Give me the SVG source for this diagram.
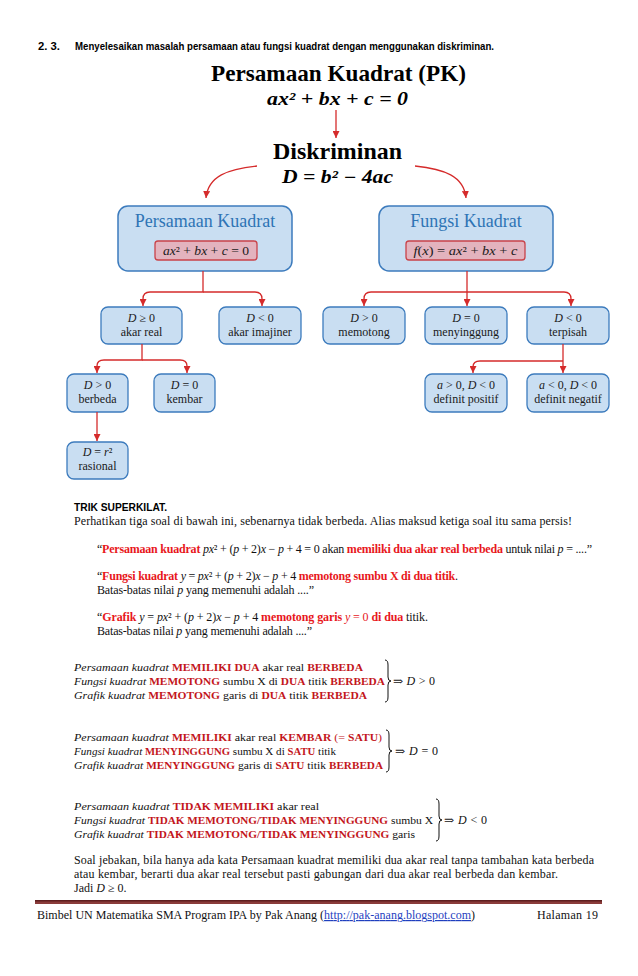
<svg xmlns="http://www.w3.org/2000/svg" width="638" height="976" viewBox="0 0 638 976">
<defs>
<style>
.serif{font-family:"Liberation Serif","DejaVu Serif",serif}
.nb{fill:#c9def2;stroke:#3c7bbd;stroke-width:1.3}
.bb{fill:#c9def2;stroke:#3c7bbd;stroke-width:1.5}
.ib{fill:#e3b3be;stroke:#c9434a;stroke-width:1.3}
.nt{font-family:"Liberation Serif","DejaVu Serif",serif;font-size:12px;fill:#1a1a1a;text-anchor:middle}
.ft{font-family:"Liberation Serif","DejaVu Serif",serif;font-size:12.5px;fill:#1a1a1a;text-anchor:middle}
.bt{font-family:"Liberation Serif","DejaVu Serif",serif;font-size:18px;fill:#2e74b5;text-anchor:middle}
.it{font-style:italic}
.cn{fill:none;stroke:#d52b2b;stroke-width:1.3}
.body{font-family:"Liberation Serif","DejaVu Serif",serif;font-size:12px;fill:#111}
.sec{font-family:"Liberation Serif","DejaVu Serif",serif;font-size:11px;fill:#111}
.qr{fill:#e8171c;font-weight:bold}
.qm{fill:#e8171c}
.sr{fill:#c3161c;font-weight:bold;font-size:10.6px}
.sm{fill:#c3161c}
.hd{font-family:"Liberation Sans",Arial,sans-serif;font-weight:bold;font-size:11.5px;fill:#000}
.big{font-family:"Liberation Serif","DejaVu Serif",serif;font-weight:bold;font-size:24px;fill:#000;text-anchor:middle}
.bm{font-family:"Liberation Serif","DejaVu Serif",serif;font-weight:bold;font-style:italic;font-size:18px;fill:#000;text-anchor:middle}
.br{fill:none;stroke:#111;stroke-width:1}
</style>
<marker id="ah" viewBox="0 0 8 8" refX="8" refY="4" markerWidth="7" markerHeight="7" markerUnits="userSpaceOnUse" orient="auto">
<path d="M0,0 L8,4 L0,8 z" fill="#d52b2b"/>
</marker>
</defs>
<rect width="638" height="976" fill="#fff"/>

<!-- header -->
<text class="hd" x="38" y="50" textLength="22" lengthAdjust="spacingAndGlyphs">2. 3.</text>
<text class="hd" x="75" y="50" textLength="419" lengthAdjust="spacingAndGlyphs">Menyelesaikan masalah persamaan atau fungsi kuadrat dengan menggunakan diskriminan.</text>

<g id="node-pk-title">
<text class="big" x="338.5" y="81" textLength="255" lengthAdjust="spacingAndGlyphs">Persamaan Kuadrat (PK)</text>
<text class="bm" x="337.5" y="105" textLength="141" lengthAdjust="spacingAndGlyphs">ax² + bx + c = 0</text>
</g>
<g id="node-diskriminan">
<text class="big" x="337.5" y="159" textLength="129" lengthAdjust="spacingAndGlyphs">Diskriminan</text>
<text class="bm" x="337.5" y="183" textLength="111" lengthAdjust="spacingAndGlyphs">D = b² − 4ac</text>
</g>

<g id="node-persamaan-kuadrat">
<rect class="bb" x="118" y="206" width="174" height="65" rx="10"/>
<text class="bt" x="205" y="227">Persamaan Kuadrat</text>
<rect class="ib" x="155" y="241" width="102" height="19" rx="3"/>
<text class="ft" x="206" y="255" textLength="86" lengthAdjust="spacingAndGlyphs"><tspan class="it">ax</tspan>² + <tspan class="it">bx</tspan> + <tspan class="it">c</tspan> = 0</text>
</g>
<g id="node-fungsi-kuadrat">
<rect class="bb" x="379" y="206" width="174" height="65" rx="10"/>
<text class="bt" x="466" y="227">Fungsi Kuadrat</text>
<rect class="ib" x="406" y="241" width="119" height="19" rx="3"/>
<text class="ft" x="465.5" y="255" textLength="104" lengthAdjust="spacingAndGlyphs"><tspan class="it">f</tspan>(<tspan class="it">x</tspan>) = <tspan class="it">ax</tspan>² + <tspan class="it">bx</tspan> + <tspan class="it">c</tspan></text>
</g>

<g id="node-d-ge-0">
<rect class="nb" x="101" y="307" width="81" height="37" rx="7"/>
<text class="nt" x="141.5" y="322"><tspan class="it">D</tspan> ≥ 0</text>
<text class="nt" x="141.5" y="336">akar real</text>
</g>
<g id="node-d-lt-0-imajiner">
<rect class="nb" x="219" y="307" width="82" height="37" rx="7"/>
<text class="nt" x="260" y="322"><tspan class="it">D</tspan> &lt; 0</text>
<text class="nt" x="260" y="336">akar imajiner</text>
</g>
<g id="node-memotong">
<rect class="nb" x="323" y="307" width="82" height="37" rx="7"/>
<text class="nt" x="364" y="322"><tspan class="it">D</tspan> &gt; 0</text>
<text class="nt" x="364" y="336">memotong</text>
</g>
<g id="node-menyinggung">
<rect class="nb" x="425" y="307" width="82" height="37" rx="7"/>
<text class="nt" x="466" y="322"><tspan class="it">D</tspan> = 0</text>
<text class="nt" x="466" y="336">menyinggung</text>
</g>
<g id="node-terpisah">
<rect class="nb" x="527" y="307" width="82" height="37" rx="7"/>
<text class="nt" x="568" y="322"><tspan class="it">D</tspan> &lt; 0</text>
<text class="nt" x="568" y="336">terpisah</text>
</g>
<g id="node-berbeda">
<rect class="nb" x="67" y="374" width="61" height="38" rx="7"/>
<text class="nt" x="97.5" y="389"><tspan class="it">D</tspan> &gt; 0</text>
<text class="nt" x="97.5" y="403">berbeda</text>
</g>
<g id="node-kembar">
<rect class="nb" x="154" y="374" width="61" height="38" rx="7"/>
<text class="nt" x="184.5" y="389"><tspan class="it">D</tspan> = 0</text>
<text class="nt" x="184.5" y="403">kembar</text>
</g>
<g id="node-definit-positif">
<rect class="nb" x="425" y="374" width="82" height="38" rx="7"/>
<text class="nt" x="466" y="389"><tspan class="it">a</tspan> &gt; 0,  <tspan class="it">D</tspan> &lt; 0</text>
<text class="nt" x="466" y="403">definit positif</text>
</g>
<g id="node-definit-negatif">
<rect class="nb" x="527" y="374" width="82" height="38" rx="7"/>
<text class="nt" x="568" y="389"><tspan class="it">a</tspan> &lt; 0,  <tspan class="it">D</tspan> &lt; 0</text>
<text class="nt" x="568" y="403">definit negatif</text>
</g>
<g id="node-rasional">
<rect class="nb" x="67" y="442" width="61" height="37" rx="7"/>
<text class="nt" x="97.5" y="456"><tspan class="it">D</tspan> = <tspan class="it">r</tspan>²</text>
<text class="nt" x="97.5" y="470">rasional</text>
</g>

<g id="connectors">
<path class="cn" d="M336,110 V138" marker-end="url(#ah)"/>
<path class="cn" d="M257,166 C228,169 208,176 206,198" marker-end="url(#ah)"/>
<path class="cn" d="M415,166 C444,169 464,176 466,198" marker-end="url(#ah)"/>
<path class="cn" d="M203,271 V292 H150 Q143,292 143,299 V306" marker-end="url(#ah)"/>
<path class="cn" d="M203,292 H255 Q262,292 262,299 V306" marker-end="url(#ah)"/>
<path class="cn" d="M467,271 V306" marker-end="url(#ah)"/>
<path class="cn" d="M467,292 H371 Q364,292 364,299 V306" marker-end="url(#ah)"/>
<path class="cn" d="M467,292 H564 Q571,292 571,299 V306" marker-end="url(#ah)"/>
<path class="cn" d="M142,344 V360 H104 Q97,360 97,366 V373" marker-end="url(#ah)"/>
<path class="cn" d="M142,360 H180 Q187,360 187,366 V373" marker-end="url(#ah)"/>
<path class="cn" d="M97,412 V441" marker-end="url(#ah)"/>
<path class="cn" d="M563,344 V373" marker-end="url(#ah)"/>
<path class="cn" d="M563,361 H480 Q473,361 473,367 V373" marker-end="url(#ah)"/>
</g>

<!-- trik superkilat -->
<text class="hd" x="74" y="511" font-size="12" textLength="93" lengthAdjust="spacingAndGlyphs">TRIK SUPERKILAT.</text>
<text class="body" x="74" y="525" textLength="498">Perhatikan tiga soal di bawah ini, sebenarnya tidak berbeda. Alias maksud ketiga soal itu sama persis!</text>

<text class="body" x="97" y="553" textLength="495">“<tspan class="qr">Persamaan kuadrat</tspan> <tspan class="it">px</tspan>² + (<tspan class="it">p</tspan> + 2)<tspan class="it">x</tspan> − <tspan class="it">p</tspan> + 4 = 0 akan <tspan class="qr">memiliki dua akar real berbeda</tspan> untuk nilai <tspan class="it">p</tspan> = ....”</text>

<text class="body" x="97" y="580" textLength="361">“<tspan class="qr">Fungsi kuadrat</tspan> <tspan class="it">y</tspan> = <tspan class="it">px</tspan>² + (<tspan class="it">p</tspan> + 2)<tspan class="it">x</tspan> − <tspan class="it">p</tspan> + 4 <tspan class="qr">memotong sumbu X di dua titik</tspan>.</text>
<text class="body" x="97" y="594" textLength="217">Batas-batas nilai <tspan class="it">p</tspan> yang memenuhi adalah ....”</text>

<text class="body" x="97" y="621" textLength="331">“<tspan class="qr">Grafik</tspan> <tspan class="it">y</tspan> = <tspan class="it">px</tspan>² + (<tspan class="it">p</tspan> + 2)<tspan class="it">x</tspan> − <tspan class="it">p</tspan> + 4 <tspan class="qr">memotong garis </tspan><tspan class="qm it">y</tspan><tspan class="qm"> = 0 </tspan><tspan class="qr">di dua</tspan> titik.</text>
<text class="body" x="97" y="635" textLength="215">Batas-batas nilai <tspan class="it">p</tspan> yang memenuhi adalah ....”</text>

<!-- section D > 0 -->
<text class="sec" x="74" y="671" textLength="289" lengthAdjust="spacingAndGlyphs"><tspan class="it">Persamaan kuadrat</tspan> <tspan class="sr">MEMILIKI DUA</tspan> akar real <tspan class="sr">BERBEDA</tspan></text>
<text class="sec" x="74" y="685" textLength="311" lengthAdjust="spacingAndGlyphs"><tspan class="it">Fungsi kuadrat</tspan> <tspan class="sr">MEMOTONG</tspan> sumbu X di <tspan class="sr">DUA</tspan> titik <tspan class="sr">BERBEDA</tspan></text>
<text class="sec" x="74" y="699" textLength="293" lengthAdjust="spacingAndGlyphs"><tspan class="it">Grafik kuadrat</tspan> <tspan class="sr">MEMOTONG</tspan> garis di <tspan class="sr">DUA</tspan> titik <tspan class="sr">BERBEDA</tspan></text>
<path class="br" d="M385,660 Q388,660 388,665 V677 Q388,681 391,681 Q388,681 388,685 V697 Q388,702 385,702"/>
<text class="body" x="393" y="685" textLength="42">⇒ <tspan class="it">D</tspan> &gt; 0</text>

<!-- section D = 0 -->
<text class="sec" x="74" y="741" textLength="308" lengthAdjust="spacingAndGlyphs"><tspan class="it">Persamaan kuadrat</tspan> <tspan class="sr">MEMILIKI</tspan>  akar real <tspan class="sr">KEMBAR</tspan> <tspan class="sm">(= </tspan><tspan class="sr">SATU</tspan><tspan class="sm">)</tspan></text>
<text class="sec" x="74" y="755" textLength="262" lengthAdjust="spacingAndGlyphs"><tspan class="it">Fungsi kuadrat</tspan> <tspan class="sr">MENYINGGUNG</tspan> sumbu X di <tspan class="sr">SATU</tspan> titik</text>
<text class="sec" x="74" y="769" textLength="309" lengthAdjust="spacingAndGlyphs"><tspan class="it">Grafik kuadrat</tspan> <tspan class="sr">MENYINGGUNG</tspan> garis di <tspan class="sr">SATU</tspan> titik <tspan class="sr">BERBEDA</tspan></text>
<path class="br" d="M386,730 Q389,730 389,735 V747 Q389,751 392,751 Q389,751 389,755 V767 Q389,772 386,772"/>
<text class="body" x="395" y="755" textLength="43">⇒ <tspan class="it">D</tspan> = 0</text>

<!-- section D < 0 -->
<text class="sec" x="74" y="810" textLength="245" lengthAdjust="spacingAndGlyphs"><tspan class="it">Persamaan kuadrat</tspan> <tspan class="sr">TIDAK MEMILIKI</tspan> akar real</text>
<text class="sec" x="74" y="824" textLength="359" lengthAdjust="spacingAndGlyphs"><tspan class="it">Fungsi kuadrat</tspan> <tspan class="sr">TIDAK MEMOTONG/TIDAK MENYINGGUNG</tspan> sumbu X</text>
<text class="sec" x="74" y="838" textLength="341" lengthAdjust="spacingAndGlyphs"><tspan class="it">Grafik kuadrat</tspan> <tspan class="sr">TIDAK MEMOTONG/TIDAK MENYINGGUNG</tspan> garis</text>
<path class="br" d="M436,799 Q439,799 439,804 V816 Q439,820 442,820 Q439,820 439,824 V836 Q439,841 436,841"/>
<text class="body" x="444" y="824" textLength="43">⇒ <tspan class="it">D</tspan> &lt; 0</text>

<text class="body" x="74" y="864" textLength="520">Soal jebakan, bila hanya ada kata Persamaan kuadrat memiliki dua akar real tanpa tambahan kata berbeda</text>
<text class="body" x="74" y="878" textLength="484">atau kembar, berarti dua akar real tersebut pasti gabungan dari dua akar real berbeda dan kembar.</text>
<text class="body" x="74" y="892">Jadi <tspan class="it">D</tspan> ≥ 0.</text>

<!-- footer -->
<rect x="35" y="900" width="567" height="4" fill="#8a3b3a"/>
<rect x="35" y="900" width="567" height="1.5" fill="#5e1f1f"/>
<text class="body" x="37" y="919" font-size="12.5" textLength="438">Bimbel UN Matematika SMA Program IPA by Pak Anang (<tspan fill="#1f3fbf" text-decoration="underline">http://pak-anang.blogspot.com</tspan>)</text>
<text class="body" x="537" y="919" font-size="12.5" textLength="61">Halaman 19</text>
</svg>
